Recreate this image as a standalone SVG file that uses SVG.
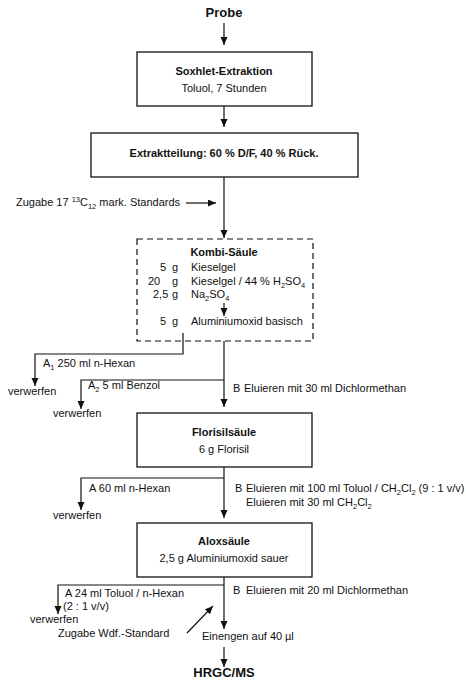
<svg xmlns="http://www.w3.org/2000/svg" width="466" height="682" viewBox="0 0 466 682">
<style>
text{font-family:"Liberation Sans",Arial,sans-serif;font-size:11px;fill:#111}
.b{font-weight:bold;font-size:11px}
.big{font-weight:bold;font-size:13px}
.m{text-anchor:middle}
.box{fill:#fff;stroke:#111;stroke-width:1.3}
.dash{fill:none;stroke:#111;stroke-width:1.2;stroke-dasharray:6 4}
.c{fill:none;stroke:#111;stroke-width:1.2}
.sub{font-size:7.5px}
</style>
<defs>
<marker id="ah" markerUnits="userSpaceOnUse" markerWidth="8" markerHeight="8" refX="8" refY="3.5" orient="auto">
<path d="M0,0 L8,3.5 L0,7 z" fill="#111"/>
</marker>
</defs>

<g id="connectors">
<line class="c" x1="224" y1="23" x2="224" y2="45" marker-end="url(#ah)"/>
<line class="c" x1="224" y1="106" x2="224" y2="127" marker-end="url(#ah)"/>
<line class="c" x1="224" y1="177" x2="224" y2="238" marker-end="url(#ah)"/>
<line class="c" x1="186" y1="203" x2="216" y2="203" marker-end="url(#ah)"/>
<line class="c" x1="224" y1="303" x2="224" y2="316" marker-end="url(#ah)"/>
<path class="c" d="M183,333 V354 H35 V386" marker-end="url(#ah)"/>
<line class="c" x1="224" y1="341" x2="224" y2="407" marker-end="url(#ah)"/>
<path class="c" d="M224,380 H81 V409" marker-end="url(#ah)"/>
<line class="c" x1="224" y1="467" x2="224" y2="518" marker-end="url(#ah)"/>
<path class="c" d="M224,478 H81 V510" marker-end="url(#ah)"/>
<line class="c" x1="224" y1="577" x2="224" y2="629" marker-end="url(#ah)"/>
<path class="c" d="M224,585 H58 V614" marker-end="url(#ah)"/>
<line class="c" x1="187" y1="633" x2="213" y2="606" marker-end="url(#ah)"/>
<line class="c" x1="224" y1="647" x2="224" y2="667" marker-end="url(#ah)"/>
</g>

<g id="probe">
<text class="big m" x="224" y="17">Probe</text>
</g>

<g id="soxhlet">
<rect class="box" x="137" y="52" width="175" height="54"/>
<text class="b m" x="224" y="75">Soxhlet-Extraktion</text>
<text class="m" x="224" y="92">Toluol, 7 Stunden</text>
</g>

<g id="extraktteilung">
<rect class="box" x="91" y="133" width="267" height="44"/>
<text class="b m" x="224" y="157" font-size="11.5">Extraktteilung: 60 % D/F, 40 % Rück.</text>
</g>

<g id="zugabe-standards">
<text x="16" y="206">Zugabe 17 <tspan class="sub" dy="-4">13</tspan><tspan dy="4">C</tspan><tspan class="sub" dy="2.5">12</tspan><tspan dy="-2.5"> mark. Standards</tspan></text>
</g>

<g id="kombi-saeule">
<rect class="dash" x="137" y="239" width="176" height="102"/>
<text class="b m" x="224" y="256">Kombi-Säule</text>
<text x="160" y="271">5</text><text x="172" y="271">g</text><text x="191" y="271">Kieselgel</text>
<text x="148" y="285">20</text><text x="172" y="285">g</text><text x="191" y="285">Kieselgel / 44 % H<tspan class="sub" dy="2.5">2</tspan><tspan dy="-2.5">SO</tspan><tspan class="sub" dy="2.5">4</tspan></text>
<text x="153" y="298">2,5</text><text x="172" y="298">g</text><text x="191" y="298">Na<tspan class="sub" dy="2.5">2</tspan><tspan dy="-2.5">SO</tspan><tspan class="sub" dy="2.5">4</tspan></text>
<text x="160" y="325">5</text><text x="172" y="325">g</text><text x="191" y="325">Aluminiumoxid basisch</text>
</g>

<g id="labels-kombi">
<text x="43" y="367">A<tspan class="sub" dy="2.5">1</tspan><tspan dy="-2.5"> 250 ml n-Hexan</tspan></text>
<text x="8" y="395">verwerfen</text>
<text x="88" y="389">A<tspan class="sub" dy="2.5">2</tspan><tspan dy="-2.5"> 5 ml Benzol</tspan></text>
<text x="53" y="417">verwerfen</text>
<text x="233" y="392">B</text><text x="244" y="392">Eluieren mit 30 ml Dichlormethan</text>
</g>

<g id="florisil">
<rect class="box" x="137" y="413" width="175" height="54"/>
<text class="b m" x="224" y="436">Florisilsäule</text>
<text class="m" x="224" y="453">6 g Florisil</text>
</g>

<g id="labels-florisil">
<text x="89" y="492">A 60 ml n-Hexan</text>
<text x="53" y="519">verwerfen</text>
<text x="235" y="492">B</text>
<text x="246" y="492">Eluieren mit 100 ml Toluol / CH<tspan class="sub" dy="2.5">2</tspan><tspan dy="-2.5">Cl</tspan><tspan class="sub" dy="2.5">2</tspan><tspan dy="-2.5"> (9 : 1 v/v)</tspan></text>
<text x="246" y="506">Eluieren mit 30 ml CH<tspan class="sub" dy="2.5">2</tspan><tspan dy="-2.5">Cl</tspan><tspan class="sub" dy="2.5">2</tspan></text>
</g>

<g id="alox">
<rect class="box" x="137" y="523" width="175" height="54"/>
<text class="b m" x="224" y="545">Aloxsäule</text>
<text class="m" x="224" y="562">2,5 g Aluminiumoxid sauer</text>
</g>

<g id="labels-alox">
<text x="65" y="597">A 24 ml Toluol / n-Hexan</text>
<text x="63" y="610">(2 : 1 v/v)</text>
<text x="30" y="623">verwerfen</text>
<text x="233" y="594">B</text><text x="246" y="594">Eluieren mit 20 ml Dichlormethan</text>
<text x="58" y="637">Zugabe Wdf.-Standard</text>
</g>

<g id="einengen">
<text x="202" y="640">Einengen auf 40 <tspan x="285">µl</tspan></text>
</g>

<g id="hrgc-ms">
<text class="big m" x="224" y="677">HRGC/MS</text>
</g>
</svg>
